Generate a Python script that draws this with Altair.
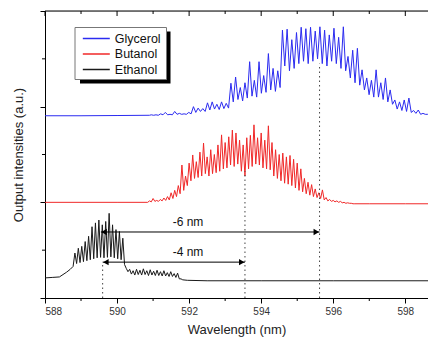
import altair as alt
import pandas as pd

# ---------------- data ----------------
series_names = ["Glycerol", "Butanol", "Ethanol"]
series_colors = ["#2b2bf0", "#f02828", "#1a1a1a"]

# Glycerol (blue)
gly_pre_x = [588.0, 589.0, 590.0, 590.9]
gly_pre_y = [3.81, 3.81, 3.815, 3.82]
gly_comb_start = 590.95
gly_comb_step = 0.065
gly_comb = [
    (3.83, 3.82), (3.83, 3.82), (3.85, 3.83), (3.88, 3.83), (3.84, 3.83),
    (3.90, 3.84), (3.86, 3.84), (3.85, 3.84), (3.88, 3.85), (4.00, 3.88),
    (3.97, 3.90), (3.96, 3.90), (4.08, 3.93), (4.10, 3.95), (4.05, 3.94),
    (4.10, 3.96), (4.07, 3.97), (4.49, 4.10), (4.62, 4.15), (4.40, 4.12),
    (4.50, 4.18), (4.94, 4.22), (4.55, 4.20), (4.94, 4.28), (4.65, 4.30),
    (5.11, 4.35), (4.80, 4.32), (4.75, 4.40), (5.60, 4.85), (5.62, 4.75),
    (5.40, 4.80), (5.55, 4.90), (5.66, 4.95), (5.63, 4.90), (5.66, 4.95),
    (5.58, 5.00), (5.67, 4.90), (5.60, 4.85), (5.50, 4.95), (5.64, 4.90),
    (5.45, 4.80), (5.67, 4.75), (5.05, 4.60), (5.18, 4.50), (5.22, 4.45),
    (4.77, 4.35), (4.60, 4.25), (4.55, 4.20), (4.77, 4.20), (4.50, 4.15),
    (4.60, 4.10), (4.35, 4.05), (4.14, 3.95), (4.10, 3.92), (4.14, 3.90),
    (4.18, 3.88), (3.92, 3.86), (3.93, 3.84), (3.86, 3.84), (3.84, 3.83),
    (3.83, 3.83),
]
gly_post_x = [598.9]
gly_post_y = [3.83]

# Butanol (red)
but_pre_x = [588.0, 589.0, 590.0, 590.85]
but_pre_y = [2.0, 2.0, 2.0, 2.0]
but_comb_start = 590.9
but_comb_step = 0.05
but_comb = [
    (2.03, 2.01), (2.08, 2.02), (2.04, 2.02), (2.06, 2.03), (2.09, 2.04),
    (2.12, 2.05), (2.20, 2.08), (2.25, 2.12), (2.35, 2.18), (2.78, 2.25),
    (2.55, 2.35), (2.82, 2.45), (2.99, 2.50), (2.85, 2.52), (3.05, 2.55),
    (3.24, 2.60), (2.95, 2.55), (3.10, 2.60), (3.00, 2.62), (3.20, 2.65),
    (3.41, 2.70), (3.25, 2.72), (3.37, 2.78), (3.51, 2.75), (3.45, 2.80),
    (3.30, 2.65), (3.20, 2.55), (3.35, 2.70), (3.40, 2.75), (3.62, 2.80),
    (3.35, 2.78), (3.45, 2.72), (3.30, 2.70), (3.60, 2.68), (3.25, 2.55),
    (3.10, 2.50), (3.00, 2.45), (3.03, 2.40), (2.95, 2.38), (2.98, 2.35),
    (2.90, 2.30), (2.82, 2.25), (2.70, 2.22), (2.50, 2.18), (2.42, 2.15),
    (2.37, 2.12), (2.28, 2.10), (2.20, 2.08), (2.26, 2.05), (2.10, 2.03),
    (2.06, 2.02), (2.04, 2.01), (2.03, 2.00), (2.02, 1.99), (2.00, 1.98),
    (1.99, 1.98), (1.98, 1.97),
]
but_post_x = [596.6, 597.0, 598.0, 598.9]
but_post_y = [1.97, 1.97, 1.97, 1.97]

# Ethanol (black)
eth_pre_x = [588.0, 588.2, 588.4, 588.5, 588.6, 588.7, 588.78]
eth_pre_y = [0.42, 0.43, 0.44, 0.49, 0.54, 0.60, 0.66]
eth_comb_start = 588.83
eth_comb_step = 0.0475
eth_comb = [
    (0.94, 0.72), (1.04, 0.74), (1.08, 0.76), (1.18, 0.78), (1.29, 0.80),
    (1.49, 0.82), (1.57, 0.84), (1.63, 0.85), (1.53, 0.84), (1.60, 0.85),
    (1.77, 0.86), (1.53, 0.84), (1.43, 0.82), (1.39, 0.80), (1.25, 0.70),
    (0.62, 0.55), (0.60, 0.50), (0.57, 0.48), (0.60, 0.49), (0.58, 0.48),
    (0.61, 0.49), (0.57, 0.47), (0.59, 0.48), (0.56, 0.47), (0.58, 0.47),
    (0.55, 0.46), (0.57, 0.46), (0.53, 0.45), (0.55, 0.45), (0.51, 0.43),
    (0.52, 0.40), (0.40, 0.38),
]
eth_post_x = [591.95, 592.5, 594.0, 596.0, 598.9]
eth_post_y = [0.37, 0.36, 0.36, 0.36, 0.36]

# annotations
marker_wl = [589.6, 593.55, 595.62]
marker_top = [0.72, 2.65, 4.9]
arrow_labels = ["-6 nm", "-4 nm"]
arrow_start = [589.55, 589.6]
arrow_end = [595.62, 593.55]
arrow_level = [1.38, 0.75]
label_wl = [591.97, 591.97]
label_level = [1.58, 0.96]

x_major = [588, 590, 592, 594, 596, 598]
x_minor = [589, 591, 593, 595, 597]
y_major = [0, 2, 4, 6]
y_minor = [1, 3, 5]


def build(name, pre_x, pre_y, start, step, pairs, post_x, post_y):
    vals = [v for p in pairs for v in p]
    comb_x = [round(start + step * i, 4) for i in range(len(vals))]
    xs = list(pre_x) + comb_x + list(post_x)
    ys = list(pre_y) + vals + list(post_y)
    return pd.DataFrame({"wl": xs, "val": ys, "series": name})


df = pd.concat([
    build("Glycerol", gly_pre_x, gly_pre_y, gly_comb_start, gly_comb_step, gly_comb, gly_post_x, gly_post_y),
    build("Butanol", but_pre_x, but_pre_y, but_comb_start, but_comb_step, but_comb, but_post_x, but_post_y),
    build("Ethanol", eth_pre_x, eth_pre_y, eth_comb_start, eth_comb_step, eth_comb, eth_post_x, eth_post_y),
], ignore_index=True)

dots = pd.DataFrame({"wl": marker_wl, "val": [0, 0, 0], "y1": marker_top})
arrows = pd.DataFrame({"wl": arrow_start, "x2": arrow_end, "val": arrow_level})
heads = pd.DataFrame({
    "wl": [arrow_start[0] + 0.09, arrow_end[0] - 0.09, arrow_start[1] + 0.09, arrow_end[1] - 0.09],
    "val": [arrow_level[0], arrow_level[0], arrow_level[1], arrow_level[1]],
    "shape": ["triangle-left", "triangle-right", "triangle-left", "triangle-right"],
})
labels = pd.DataFrame({"wl": label_wl, "val": label_level, "txt": arrow_labels})

FONT = "Liberation Sans"
W, H = 383, 287
xscale = alt.Scale(domain=[588, 598.63], nice=False, zero=False)
yscale = alt.Scale(domain=[0, 6], nice=False, zero=False)

bottom_axis = alt.Axis(
    values=x_major, tickSize=5, grid=False,
    domainColor="black", tickColor="black",
    labelFont=FONT, labelFontSize=10, labelColor="#333", labelPadding=3,
    title="Wavelength (nm)", titleFont=FONT, titleFontSize=13,
    titleFontWeight="normal", titleColor="#222", titlePadding=7,
)
left_axis = alt.Axis(
    values=y_major, labels=False, tickSize=5, grid=False,
    domainColor="black", tickColor="black",
    title="Output intensities (a.u.)", titleFont=FONT, titleFontSize=13,
    titleFontWeight="normal", titleColor="#222", titlePadding=14,
)


def X(field="wl"):
    return alt.X(field + ":Q", scale=xscale, axis=bottom_axis)


def Y(field="val"):
    return alt.Y(field + ":Q", scale=yscale, axis=left_axis)


legend = alt.Legend(
    orient="none", legendX=30, legendY=17, title=None,
    padding=3,
    symbolType="M-2,0H2", symbolSize=182, symbolStrokeWidth=1.5, symbolOffset=10.8,
    labelFont=FONT, labelFontSize=12.5, labelColor="#111", labelOffset=11,
    rowPadding=1.5,
)

one = pd.DataFrame({"a": [0]})

# legend frame with drop shadow
legend_shadow = alt.Chart(one).mark_rect(color="black").encode(
    x=alt.value(35), x2=alt.value(125.5), y=alt.value(20.5), y2=alt.value(72.5)
)
legend_box = alt.Chart(one).mark_rect(fill="white", stroke="#777", strokeWidth=1).encode(
    x=alt.value(30), x2=alt.value(121.5), y=alt.value(16.5), y2=alt.value(68.5)
)

lines = alt.Chart(df).mark_line(strokeWidth=1).encode(
    x=X(), y=Y(),
    color=alt.Color("series:N", scale=alt.Scale(domain=series_names, range=series_colors),
                    sort=series_names, legend=legend),
)

# frame: top border with inward ticks, minor ticks on bottom and left
top_border = alt.Chart(one).mark_rule(color="black").encode(
    x=alt.value(0), x2=alt.value(W), y=alt.value(0)
)
top_major = alt.Chart(pd.DataFrame({"wl": x_major})).mark_rule(color="black").encode(
    x=X(), y=alt.value(0), y2=alt.value(5)
)
top_minor = alt.Chart(pd.DataFrame({"wl": x_minor})).mark_rule(color="black").encode(
    x=X(), y=alt.value(0), y2=alt.value(3)
)
bottom_minor = alt.Chart(pd.DataFrame({"wl": x_minor})).mark_rule(color="black").encode(
    x=X(), y=alt.value(H), y2=alt.value(H + 3)
)
left_minor = alt.Chart(pd.DataFrame({"val": y_minor})).mark_rule(color="black").encode(
    y=Y(), x=alt.value(0), x2=alt.value(-3)
)

dotted = alt.Chart(dots).mark_rule(strokeDash=[1.5, 3], color="#444", strokeWidth=1).encode(
    x=X(), y=Y(), y2="y1:Q"
)

arrow_lines = alt.Chart(arrows).mark_rule(color="black", strokeWidth=1).encode(
    x=X(), x2="x2:Q", y=Y()
)

arrow_heads = alt.Chart(heads).mark_point(filled=True, color="black", size=40, opacity=1).encode(
    x=X(), y=Y(), shape=alt.Shape("shape:N", scale=None)
)

arrow_text = alt.Chart(labels).mark_text(font=FONT, fontSize=12, color="#111").encode(
    x=X(), y=Y(), text="txt:N"
)

chart = alt.layer(
    lines, top_border, top_major, top_minor, bottom_minor, left_minor,
    dotted, arrow_lines, arrow_heads, arrow_text, legend_shadow, legend_box
).properties(
    width=W, height=H,
    autosize=alt.AutoSizeParams(type="none"),
    padding={"left": 45, "top": 11, "right": 0, "bottom": 44},
).configure_view(stroke=None).configure(background="white")

chart.save("out.html", embed_options={"renderer": "svg", "actions": False})
